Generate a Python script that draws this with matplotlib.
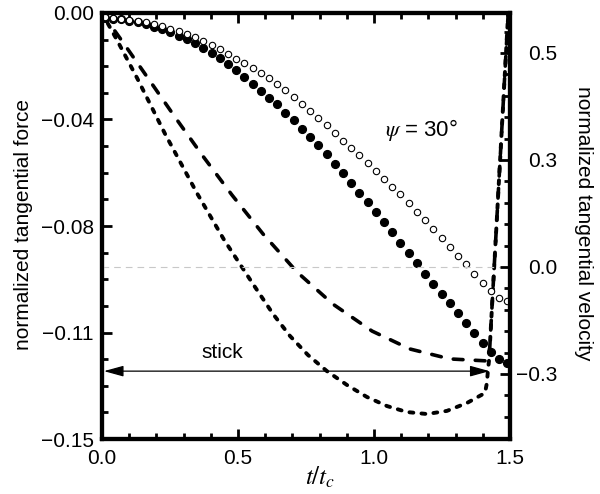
import numpy as np
import matplotlib
matplotlib.use('Agg')
import matplotlib.pyplot as plt
from matplotlib.ticker import FixedLocator, AutoMinorLocator

plt.rcParams['font.family'] = ['Liberation Sans', 'DejaVu Sans']
plt.rcParams['mathtext.fontset'] = 'stix'
plt.rcParams['font.size'] = 15

# sampled solution (circles), normalized time t/t_c
t_dots = np.linspace(0.01, 1.49, 50)
force_filled = [
    -0.0018, -0.0020, -0.0022, -0.0027, -0.0033, -0.0040, -0.0048, -0.0057, -0.0067, -0.0080,
    -0.0093, -0.0107, -0.0123, -0.0140, -0.0157, -0.0180, -0.0202, -0.0226, -0.0250, -0.0274,
    -0.0298, -0.0322, -0.0351, -0.0378, -0.0407, -0.0436, -0.0466, -0.0497, -0.0530, -0.0563,
    -0.0600, -0.0633, -0.0667, -0.0702, -0.0737, -0.0772, -0.0809, -0.0845, -0.0882, -0.0919,
    -0.0953, -0.0989, -0.1022, -0.1057, -0.1093, -0.1128, -0.1161, -0.1194, -0.1219, -0.1231,
]
force_open = [
    -0.0015, -0.0017, -0.0020, -0.0024, -0.0028, -0.0033, -0.0039, -0.0046, -0.0056, -0.0065,
    -0.0075, -0.0086, -0.0098, -0.0112, -0.0128, -0.0145, -0.0161, -0.0177, -0.0194, -0.0211,
    -0.0230, -0.0250, -0.0271, -0.0296, -0.0320, -0.0345, -0.0368, -0.0396, -0.0423, -0.0449,
    -0.0475, -0.0501, -0.0527, -0.0556, -0.0583, -0.0611, -0.0639, -0.0670, -0.0702, -0.0730,
    -0.0760, -0.0793, -0.0823, -0.0855, -0.0885, -0.0918, -0.0950, -0.0978, -0.1003, -0.1014,
]

# analytical curves (dashed)
t_long = [0, 0.074, 0.176, 0.268, 0.371, 0.478, 0.592, 0.717, 0.849, 0.993,
          1.132, 1.279, 1.415, 1.423, 1.493]
force_long = [0, -0.0099, -0.0239, -0.0366, -0.0504, -0.0641, -0.0778, -0.0912, -0.1025,
              -0.1120, -0.1183, -0.1218, -0.1225, -0.1222, -0.0007]
t_short = [0, 0.055, 0.129, 0.232, 0.349, 0.449, 0.555, 0.629, 0.691, 0.757, 0.827, 0.901,
           0.974, 1.048, 1.121, 1.195, 1.268, 1.342, 1.408, 1.415, 1.419, 1.423, 1.493]
force_short = [0, -0.0095, -0.0229, -0.0426, -0.0634, -0.0799, -0.0954, -0.1060, -0.1137,
               -0.1204, -0.1261, -0.1310, -0.1352, -0.1384, -0.1405, -0.1412, -0.1401,
               -0.1373, -0.1338, -0.1303, -0.1257, -0.1222, -0.0007]

# stick zone and annotation
stick_start, stick_end, stick_level = 0.007, 1.425, -0.1261

# axis ticks
x_ticks = [0.0, 0.5, 1.0, 1.5]
x_labels = ['0.0', '0.5', '1.0', '1.5']
force_ticks = [0.0, -0.0375, -0.075, -0.1125, -0.15]
force_labels = ['0.00', '\u22120.04', '\u22120.08', '\u22120.11', '\u22120.15']
vel_ticks = [-0.26, 0.0, 0.26, 0.52]
vel_labels = ['\u22120.3', '0.0', '0.3', '0.5']

fig = plt.figure(figsize=(6, 4.94), dpi=100)
ax = fig.add_axes([0.17, 0.1113, 0.68, 0.8624])
ax2 = ax.twinx()

ax.plot(t_long, force_long, color='black', lw=2.6, dashes=(2.7, 3.4),
        dash_capstyle='round')
ax.plot(t_short, force_short, color='black', lw=2.8, dashes=(1.0, 2.1),
        dash_capstyle='round')
ax.plot(t_dots, force_filled, 'o', color='black', ms=5.6, zorder=3)
ax.plot(t_dots, force_open, 'o', mfc='white', mec='black', ms=4.6, mew=0.8, zorder=4)

ax.annotate('', xy=(stick_end, stick_level), xytext=(stick_start, stick_level),
            arrowprops=dict(arrowstyle='<|-|>,head_length=0.8,head_width=0.22',
                            mutation_scale=15, lw=0.9, color='black',
                            shrinkA=0, shrinkB=0))
ax.text(0.444, -0.1194, 'stick', ha='center', va='center', fontsize=15)
ax.text(1.173, -0.0412, r'$\psi$ = 30°', ha='center', va='center', fontsize=16)

ax2.axhline(0.0, color='#c8c8c8', lw=0.8, dashes=(6, 4.5), zorder=0)

ax.set_xlim(0, 1.5)
ax.set_ylim(-0.15, 0)
ax2.set_ylim(-0.418, 0.617)

ax.xaxis.set_major_locator(FixedLocator(x_ticks))
ax.set_xticklabels(x_labels)
ax.xaxis.set_minor_locator(AutoMinorLocator(5))
ax.yaxis.set_major_locator(FixedLocator(force_ticks))
ax.set_yticklabels(force_labels)
ax.yaxis.set_minor_locator(AutoMinorLocator(4))
ax2.yaxis.set_major_locator(FixedLocator(vel_ticks))
ax2.set_yticklabels(vel_labels, ha='right')
ax2.yaxis.set_minor_locator(AutoMinorLocator(5))

ax.tick_params(which='both', direction='in', top=True, right=False, width=2)
ax.tick_params(which='major', length=7)
ax.tick_params(which='minor', length=4)
ax.tick_params(axis='x', pad=7)
ax.tick_params(axis='y', pad=6)
ax2.tick_params(which='both', direction='in', width=2)
ax2.tick_params(which='major', length=7, pad=34)
ax2.tick_params(which='minor', length=4)

for a in (ax, ax2):
    for sp in a.spines.values():
        sp.set_linewidth(3)

fig.text(24 / 600, 1 - 224 / 494, 'normalized tangential force', rotation=90,
         ha='center', va='center', fontsize=15)
fig.text(584 / 600, 1 - 223 / 494, 'normalized tangential velocity', rotation=270,
         ha='center', va='center', fontsize=15)
fig.text(320 / 600, 1 - 477 / 494, r'$t/t_c$', ha='center', va='center', fontsize=18)

fig.savefig('out.png', dpi=100)
